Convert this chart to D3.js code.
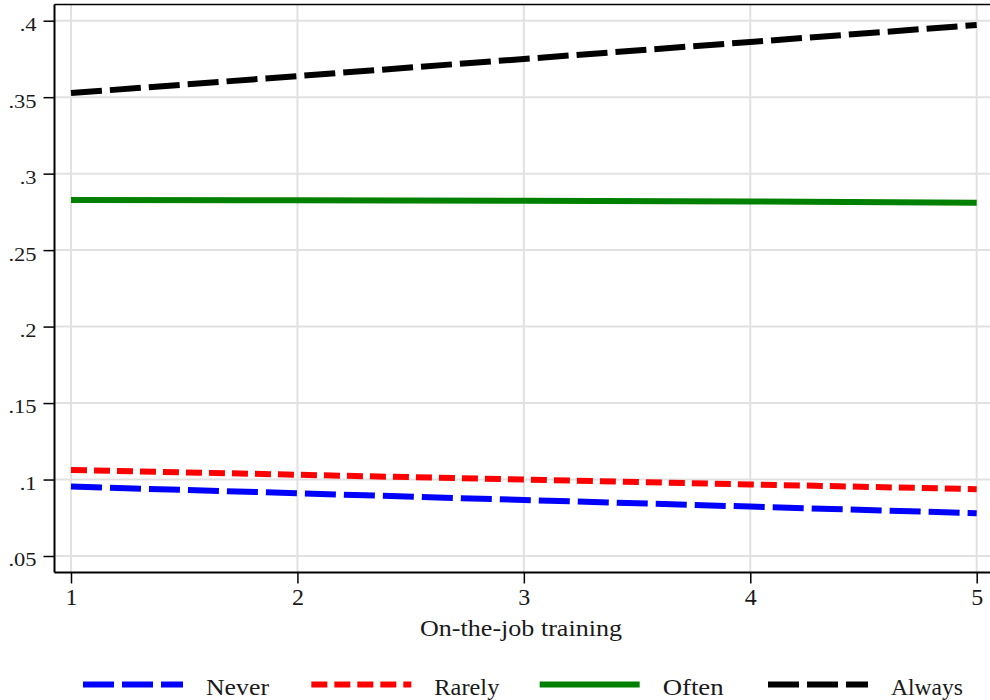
<!DOCTYPE html>
<html>
<head>
<meta charset="utf-8">
<script src="https://cdn.jsdelivr.net/npm/d3@7"></script>
<style>
  body { margin: 0; background: #fff; }
  svg { display: block; }
  svg text { font-family: "Liberation Serif", "Times New Roman", Times, serif; fill: #1a1a1a; }
</style>
</head>
<body>
<svg id="chart" width="990" height="700"></svg>
<script>
// training levels on the x axis
const training = [1, 2, 3, 4, 5]

// predicted probabilities
const never  = [0.0954, 0.0910, 0.0866, 0.0823, 0.0780]
const rarely = [0.1063, 0.1031, 0.1000, 0.0968, 0.0937]
const often  = [0.2828, 0.2826, 0.2823, 0.2818, 0.2810]
const always = [0.3527, 0.3638, 0.3750, 0.3861, 0.3972]

const yTicks = [0.05, 0.1, 0.15, 0.2, 0.25, 0.3, 0.35, 0.4]
const yTickLabels = [".05", ".1", ".15", ".2", ".25", ".3", ".35", ".4"]
const seriesNames = ["Never", "Rarely", "Often", "Always"]

const series = [
    { name: "Never",  values: never,  color: "#0000ff", dash: "31,8" },
    { name: "Rarely", values: rarely, color: "#ff0000", dash: "16,7" },
    { name: "Often",  values: often,  color: "#008000", dash: null },
    { name: "Always", values: always, color: "#000000", dash: "31,8" }
]

const FONT = '"Liberation Serif", "Times New Roman", Times, serif'

const svg = d3.select("#chart")

const frame = { left: 54.5, top: 4.5, bottom: 572.5, right: 1000 }

const x = d3.scaleLinear().domain([1, 5]).range([71, 976.7])
const y = d3.scaleLinear().domain([0.05, 0.4]).range([556, 20.7])

// grid
const grid = svg.append("g")
grid.selectAll("line.h")
    .data(yTicks)
    .enter().append("line")
    .attr("x1", frame.left).attr("x2", frame.right)
    .attr("y1", d => y(d)).attr("y2", d => y(d))
    .attr("stroke", "#e1e1e1").attr("stroke-width", 2)
grid.selectAll("line.v")
    .data(training)
    .enter().append("line")
    .attr("x1", d => x(d)).attr("x2", d => x(d))
    .attr("y1", frame.top).attr("y2", frame.bottom)
    .attr("stroke", "#e1e1e1").attr("stroke-width", 2)

// top border
svg.append("line")
    .attr("x1", frame.left).attr("x2", frame.right)
    .attr("y1", frame.top).attr("y2", frame.top)
    .attr("stroke", "#000").attr("stroke-width", 1.5)

// y axis
const yAxis = svg.append("g")
    .attr("transform", `translate(${frame.left},0)`)
    .call(d3.axisLeft(y).tickValues(yTicks).tickFormat((d, i) => yTickLabels[i]).tickSize(11).tickPadding(7))
yAxis.attr("font-family", FONT)
yAxis.select(".domain").attr("d", `M0,${frame.top}V${frame.bottom}`).attr("stroke-width", 2)
yAxis.selectAll(".tick line").attr("stroke-width", 1.5)
yAxis.selectAll(".tick text")
    .attr("font-size", 18)
    .attr("dy", "0.55em")
    .attr("transform", "scale(1.25,1)")
    .attr("x", -18 / 1.25)

// x axis
const xAxis = svg.append("g")
    .attr("transform", `translate(0,${frame.bottom})`)
    .call(d3.axisBottom(x).tickValues(training).tickFormat(d3.format("d")).tickSize(11).tickPadding(7))
xAxis.attr("font-family", FONT)
xAxis.select(".domain").attr("d", `M${frame.left},0H${frame.right}`).attr("stroke-width", 2)
xAxis.selectAll(".tick line").attr("stroke-width", 1.5)
xAxis.selectAll(".tick text").attr("font-size", 24).attr("dy", "0.62em")

svg.append("text")
    .attr("x", 521).attr("y", 636)
    .attr("text-anchor", "middle")
    .attr("font-family", FONT)
    .attr("font-size", 24)
    .attr("textLength", 202).attr("lengthAdjust", "spacingAndGlyphs")
    .text("On-the-job training")

// lines
const line = d3.line()
    .x((d, i) => x(training[i]))
    .y(d => y(d))

svg.append("g")
    .selectAll("path")
    .data(series)
    .enter().append("path")
    .attr("d", d => line(d.values))
    .attr("fill", "none")
    .attr("stroke", d => d.color)
    .attr("stroke-width", 6)
    .attr("stroke-dasharray", d => d.dash)

// legend
const legendX = d3.scalePoint().domain(seriesNames).range([83, 768])
const labelWidths = [63, 65, 61, 72]
const legend = svg.append("g")
    .selectAll("g")
    .data(series)
    .enter().append("g")
    .attr("transform", d => `translate(${legendX(d.name)},684.5)`)
legend.append("line")
    .attr("x1", 0).attr("x2", 100)
    .attr("stroke", d => d.color)
    .attr("stroke-width", 6)
    .attr("stroke-dasharray", d => d.dash)
legend.append("text")
    .attr("x", 123).attr("y", 10)
    .attr("font-family", FONT)
    .attr("font-size", 23)
    .attr("textLength", (d, i) => labelWidths[i]).attr("lengthAdjust", "spacingAndGlyphs")
    .text(d => d.name)
</script>
</body>
</html>
